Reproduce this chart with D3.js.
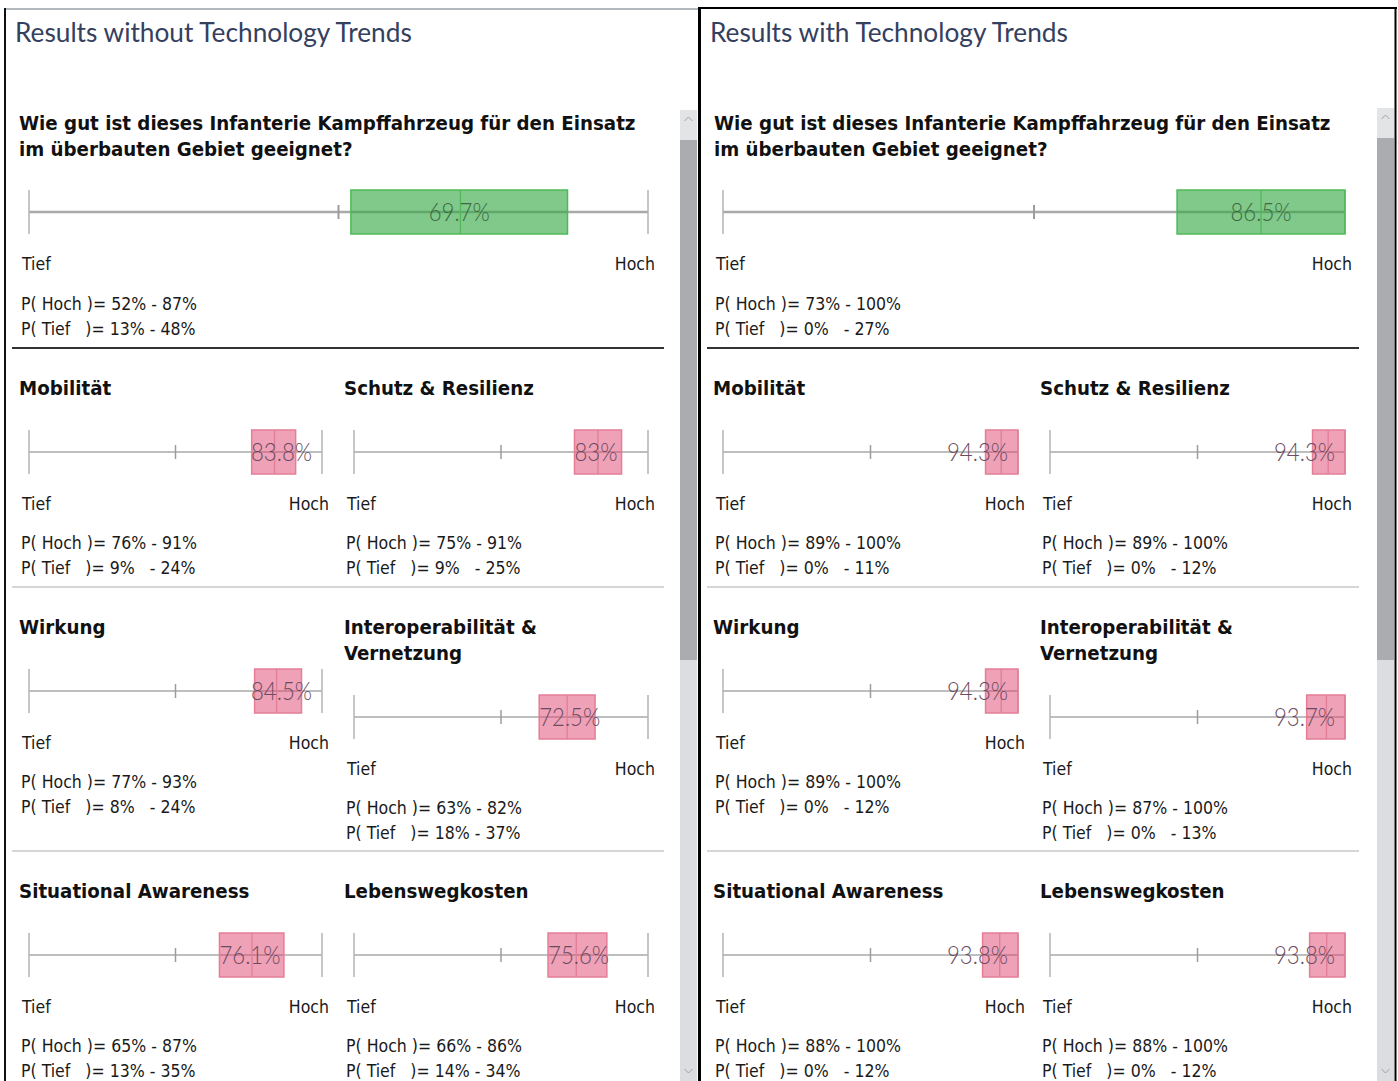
<!DOCTYPE html>
<html><head><meta charset="utf-8">
<script src="https://cdn.jsdelivr.net/npm/d3@7"></script>
<style>html,body{margin:0;padding:0;background:#fff;overflow:hidden} text{white-space:pre}</style>
</head><body><svg id="c" width="1398" height="1081"></svg>
<script>
// ---------- DATA ----------
const panelTitles = ["Results without Technology Trends", "Results with Technology Trends"];
const questionLines = ["Wie gut ist dieses Infanterie Kampffahrzeug für den Einsatz", "im überbauten Gebiet geeignet?"];
const criteria = ["Mobilität", "Schutz & Resilienz", "Wirkung", "Interoperabilität & Vernetzung", "Situational Awareness", "Lebenswegkosten"];
const scaleLabels = ["Tief", "Hoch"];
// index 0 = overall question, 1..6 = criteria
const medianWithout = [69.7, 83.8, 83, 84.5, 72.5, 76.1, 75.6];
const hochLoWithout = [52, 76, 75, 77, 63, 65, 66];
const hochHiWithout = [87, 91, 91, 93, 82, 87, 86];
const tiefLoWithout = [13, 9, 9, 8, 18, 13, 14];
const tiefHiWithout = [48, 24, 25, 24, 37, 35, 34];
const medianWith = [86.5, 94.3, 94.3, 94.3, 93.7, 93.8, 93.8];
const hochLoWith = [73, 89, 89, 89, 87, 88, 88];
const hochHiWith = [100, 100, 100, 100, 100, 100, 100];
const tiefLoWith = [0, 0, 0, 0, 0, 0, 0];
const tiefHiWith = [27, 11, 12, 12, 13, 12, 12];

const panels = [
  {title: panelTitles[0], med: medianWithout, hLo: hochLoWithout, hHi: hochHiWithout, tLo: tiefLoWithout, tHi: tiefHiWithout},
  {title: panelTitles[1], med: medianWith, hLo: hochLoWith, hHi: hochHiWith, tLo: tiefLoWith, tHi: tiefHiWith}
];

// ---------- STYLE / LAYOUT ----------
const svg = d3.select("#c");
svg.append("rect").attr("width", 1398).attr("height", 1081).attr("fill", "#fff");
const FT = "Lato, 'Open Sans', sans-serif";
const FB = "'DejaVu Sans Condensed', 'DejaVu Sans', sans-serif";
const FV = "Lato, 'Open Sans', sans-serif";

function measure(txt, family, weight, size) {
  const t = svg.append("text").attr("font-family", family).attr("font-weight", weight)
    .attr("font-size", size).text(txt);
  const w = t.node().getComputedTextLength();
  t.remove();
  return w;
}
const titleSize = 24 * 397 / measure(panelTitles[0], FT, 400, 24);
const headSize = 20 * 617 / measure(questionLines[0], FB, 700, 20);
const bodySize = 18 * 176 / measure("P( Hoch )= 52% - 87%", FB, 400, 18);
const valSize = 25;
const valSquash = 61 / measure("69.7%", FV, 300, valSize);

function pHoch(lo, hi) { return "P( Hoch )= " + lo + "% - " + hi + "%"; }
function pTief(lo, hi) { return "P( Tief   )= " + lo + "%" + (lo < 10 ? "   " : " ") + "- " + hi + "%"; }

function wrap(txt, maxW) {
  const words = txt.split(" ");
  const lines = []; let cur = "";
  words.forEach(w => {
    const trial = cur ? cur + " " + w : w;
    if (cur && measure(trial, FB, 700, headSize) > maxW) { lines.push(cur); cur = w; }
    else cur = trial;
  });
  lines.push(cur);
  return lines;
}

const GREEN = {fill: "#34a844", op: 0.62, stroke: "#4cbb55", med: "#52b85a", text: "#3a6a3e"};
const PINK = {fill: "#e0456f", op: 0.5, stroke: "#e57d97", med: "#e07e96", text: "#6a4b60"};

function drawGauge(g, x0, x1, cy, med, lo, hi, main) {
  const x = d3.scaleLinear().domain([0, 100]).range([x0, x1]);
  const c = main ? GREEN : PINK;
  g.append("line").attr("x1", x(0)).attr("x2", x(100)).attr("y1", cy).attr("y2", cy)
    .attr("stroke", "#a9a9a9").attr("stroke-width", main ? 2.5 : 1.5);
  [0, 100].forEach(v => g.append("line").attr("x1", x(v)).attr("x2", x(v))
    .attr("y1", cy - 22).attr("y2", cy + 22).attr("stroke", "#b3b3b3").attr("stroke-width", 1.5));
  g.append("line").attr("x1", x(50)).attr("x2", x(50)).attr("y1", cy - 7).attr("y2", cy + 7)
    .attr("stroke", "#9c9c9c").attr("stroke-width", main ? 2 : 1.5);
  g.append("rect").attr("x", x(lo)).attr("y", cy - 22).attr("width", x(hi) - x(lo)).attr("height", 44)
    .attr("fill", c.fill).attr("fill-opacity", c.op).attr("stroke", c.stroke).attr("stroke-width", 1.5);
  g.append("line").attr("x1", x(med)).attr("x2", x(med)).attr("y1", cy - 22).attr("y2", cy + 22)
    .attr("stroke", c.med).attr("stroke-width", 1.3);
  const lbl = med + "%";
  const t = g.append("text").attr("font-family", FV).attr("font-weight", 300).attr("font-size", valSize)
    .attr("fill", c.text).attr("y", cy + 9).text(lbl);
  const w = t.node().getComputedTextLength() * valSquash;
  t.attr("textLength", w).attr("lengthAdjust", "spacingAndGlyphs");
  let tx;
  if (main) tx = (x(lo) + x(hi)) / 2 - w / 2;
  else tx = Math.min(x(lo), x(100) - 10 - w);
  t.attr("x", tx);
}

function bodyText(g, x, y, txt, anchor) {
  g.append("text").attr("x", x).attr("y", y).attr("font-family", FB).attr("font-size", bodySize)
    .attr("fill", "#1a1a1a").attr("text-anchor", anchor || "start").text(txt);
}

function drawScales(g, x0, x1, y) {
  bodyText(g, x0 - 7, y, scaleLabels[0]);
  bodyText(g, x1 + 7, y, scaleLabels[1], "end");
}

const OX = [0, 695];
const mainSpan = [[29, 648], [723, 1345]];
const colSpan = [[[29, 322], [354, 648]], [[723, 1018], [1050, 1345]]];
const rowHeadY = [395, 634, 898];
const rowSepY = [587, 851];

panels.forEach((p, pi) => {
  const ox = OX[pi];
  const g = svg.append("g");
  g.append("text").attr("x", ox + 15).attr("y", 42).attr("font-family", FT).attr("font-size", titleSize)
    .attr("fill", "#34405e").text(p.title);
  questionLines.forEach((l, i) => g.append("text").attr("x", ox + 19).attr("y", 130 + 26 * i)
    .attr("font-family", FB).attr("font-weight", 700).attr("font-size", headSize).attr("fill", "#111").text(l));
  const [mx0, mx1] = mainSpan[pi];
  drawGauge(g, mx0, mx1, 212, p.med[0], p.hLo[0], p.hHi[0], true);
  drawScales(g, mx0, mx1, 270);
  bodyText(g, mx0 - 8, 310, pHoch(p.hLo[0], p.hHi[0]));
  bodyText(g, mx0 - 8, 335, pTief(p.tLo[0], p.tHi[0]));
  g.append("line").attr("x1", ox + 12).attr("x2", ox + 664).attr("y1", 348).attr("y2", 348)
    .attr("stroke", "#333").attr("stroke-width", 2);
  rowSepY.forEach(y => g.append("line").attr("x1", ox + 12).attr("x2", ox + 664).attr("y1", y).attr("y2", y)
    .attr("stroke", "#c9c9c9").attr("stroke-width", 1.5));

  const cols = colSpan[pi];
  criteria.forEach((name, ci) => {
    const r = Math.floor(ci / 2), c = ci % 2;
    const [x0, x1] = cols[c];
    const hy = rowHeadY[r];
    const lines = wrap(name, 300);
    lines.forEach((l, i) => g.append("text").attr("x", x0 - 10).attr("y", hy + 26 * i)
      .attr("font-family", FB).attr("font-weight", 700).attr("font-size", headSize).attr("fill", "#111").text(l));
    const cy = hy + 57 + 26 * (lines.length - 1);
    const k = ci + 1;
    drawGauge(g, x0, x1, cy, p.med[k], p.hLo[k], p.hHi[k], false);
    drawScales(g, x0, x1, cy + 58);
    bodyText(g, x0 - 8, cy + 97, pHoch(p.hLo[k], p.hHi[k]));
    bodyText(g, x0 - 8, cy + 122, pTief(p.tLo[k], p.tHi[k]));
  });

  // scrollbar
  const sx = pi === 0 ? 680 : 1377, st = pi === 0 ? 110 : 108;
  g.append("rect").attr("x", sx).attr("y", st).attr("width", 17).attr("height", 1081 - st).attr("fill", "#dcdde0");
  g.append("rect").attr("x", sx).attr("y", st).attr("width", 17).attr("height", 30).attr("fill", "#e3e4e6");
  g.append("rect").attr("x", sx).attr("y", st + 30).attr("width", 17).attr("height", 660 - st - 30).attr("fill", "#aaacb0");
  g.append("path").attr("d", `M${sx + 4.5},${st + 11} L${sx + 8.5},${st + 7} L${sx + 12.5},${st + 11}`)
    .attr("fill", "none").attr("stroke", "#a0a0a0").attr("stroke-width", 1);
  g.append("path").attr("d", `M${sx + 4.5},${1069} L${sx + 8.5},${1073} L${sx + 12.5},${1069}`)
    .attr("fill", "none").attr("stroke", "#a0a0a0").attr("stroke-width", 1);
});

// frame
svg.append("line").attr("x1", 4).attr("x2", 698).attr("y1", 9).attr("y2", 9).attr("stroke", "#9aa0a8").attr("stroke-width", 1.5);
svg.append("line").attr("x1", 5).attr("x2", 5).attr("y1", 8).attr("y2", 1081).attr("stroke", "#111").attr("stroke-width", 2);
svg.append("line").attr("x1", 699.5).attr("x2", 699.5).attr("y1", 7).attr("y2", 1081).attr("stroke", "#000").attr("stroke-width", 3);
svg.append("line").attr("x1", 699).attr("x2", 1397).attr("y1", 8).attr("y2", 8).attr("stroke", "#000").attr("stroke-width", 2);
svg.append("line").attr("x1", 1395.5).attr("x2", 1395.5).attr("y1", 7).attr("y2", 1081).attr("stroke", "#000").attr("stroke-width", 2);
</script></body></html>
